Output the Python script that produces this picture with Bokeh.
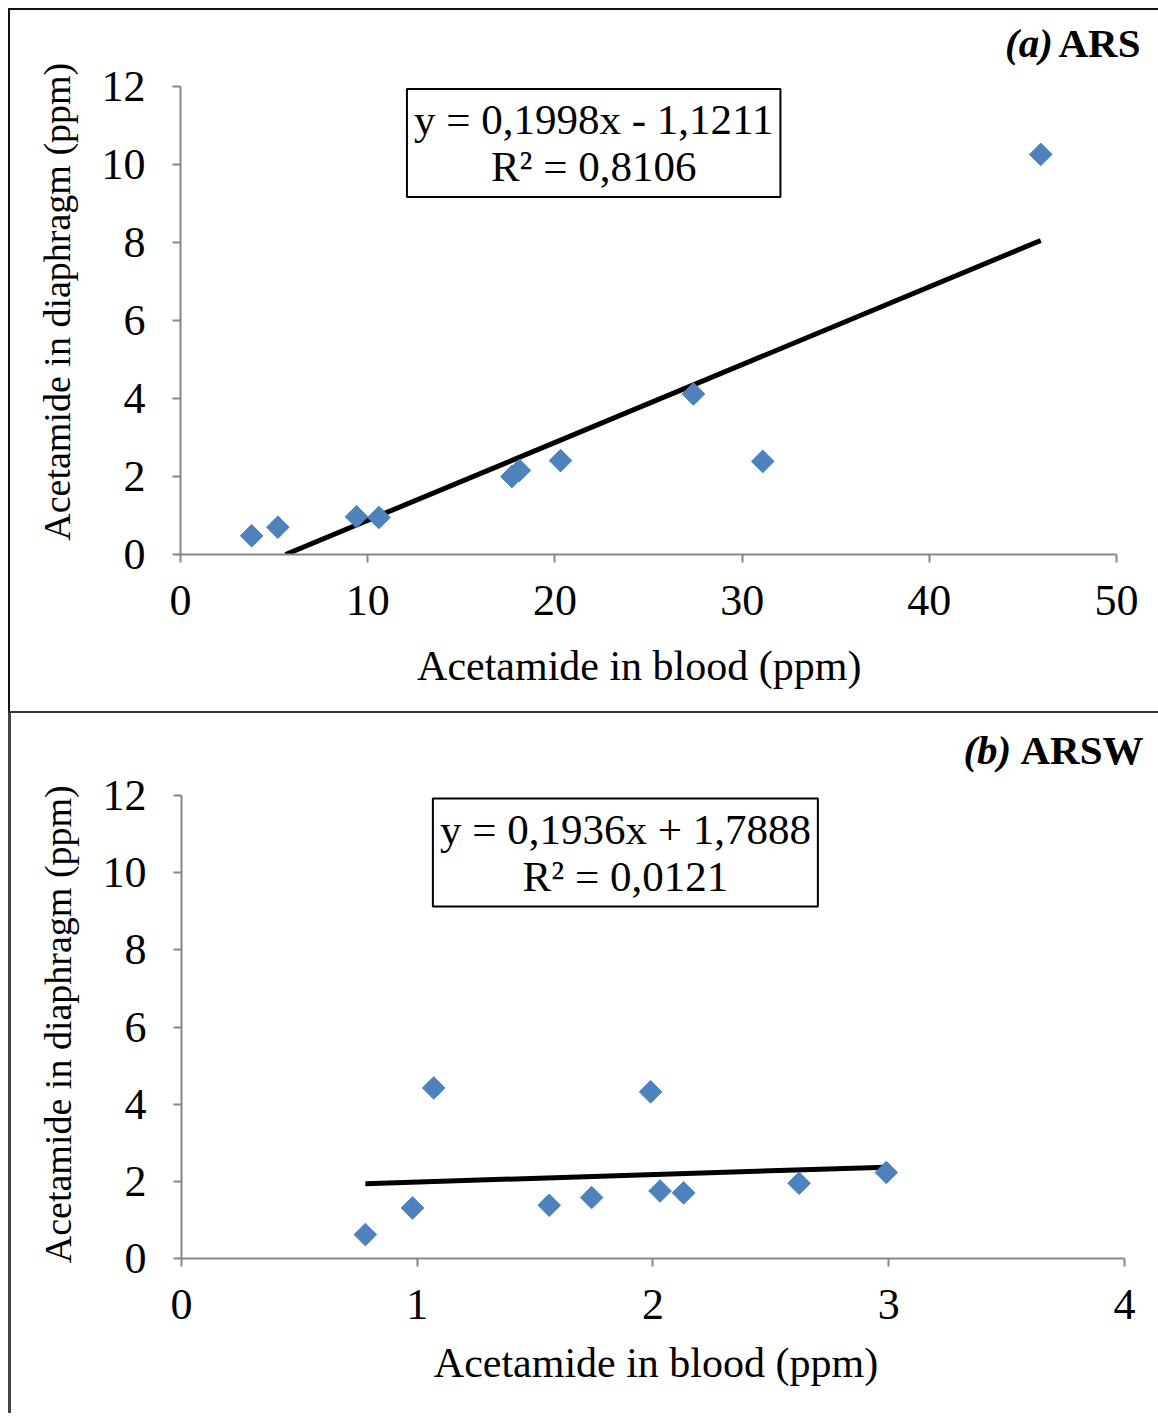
from bokeh.plotting import figure
from bokeh.models import Label, Range1d
from bokeh.layouts import column
from bokeh.embed import file_html
from bokeh.resources import INLINE

# ---- data ----
ars_blood = [3.8, 5.2, 9.4, 10.6, 17.7, 18.1, 20.3, 27.4, 31.1, 45.95]
ars_diaph = [0.48, 0.70, 0.97, 0.95, 2.00, 2.16, 2.41, 4.12, 2.39, 10.27]
ars_slope, ars_intercept = 0.1998, -1.1211
ars_eq = "y = 0,1998x - 1,1211\nR² = 0,8106"

arsw_blood = [0.78, 0.98, 1.07, 1.56, 1.74, 1.99, 2.03, 2.13, 2.62, 2.99]
arsw_diaph = [0.62, 1.31, 4.42, 1.38, 1.58, 4.32, 1.75, 1.70, 1.95, 2.23]
arsw_slope, arsw_intercept = 0.1936, 1.7888
arsw_eq = "y = 0,1936x + 1,7888\nR² = 0,0121"

ars_xticks = [0, 10, 20, 30, 40, 50]
arsw_xticks = [0, 1, 2, 3, 4]
yticks = [0, 2, 4, 6, 8, 10, 12]

x_title = "Acetamide in blood (ppm)"
y_title = "Acetamide in diaphragm (ppm)"

FONT = "Liberation Serif"
AXIS_GRAY = "#868686"
BLUE = "#4F81BD"
NB = "\u00a0"   # trailing no-break spaces re-centre the axis titles


def make_panel(xs, ys, slope, icpt, xticks, eq, tag, name,
               width, height, border_l, border_tb, mb, axis_px,
               eq_xy, tag_x, name_x, tag_y, xlab_standoff, xlab, ylab, styles):
    xmax_axis = xticks[-1]
    ymax_axis = yticks[-1]
    # the frame reaches beyond the axes' ends so that the panel tag fits in it
    frame_w = width - border_l - mb[0] - mb[1]
    frame_h = height - border_tb - mb[2] - mb[3]
    x_end = xmax_axis * frame_w / axis_px[0]
    y_end = ymax_axis * frame_h / axis_px[1]
    p = figure(width=width, height=height, output_backend="svg",
               toolbar_location=None, x_range=Range1d(0, x_end),
               y_range=Range1d(0, y_end),
               min_border_left=mb[0], min_border_right=mb[1],
               min_border_top=mb[2], min_border_bottom=mb[3])
    p.styles = styles
    p.outline_line_color = None
    p.grid.visible = False
    p.background_fill_color = "white"
    p.border_fill_color = "white"

    for ax in (p.xaxis[0], p.yaxis[0]):
        ax.axis_line_color = AXIS_GRAY
        ax.axis_line_width = 2
        ax.major_tick_line_color = AXIS_GRAY
        ax.major_tick_line_width = 2
        ax.major_tick_out = 8
        ax.major_tick_in = 0
        ax.minor_tick_line_color = None
        ax.major_label_text_font = FONT
        ax.major_label_text_font_size = "44px"
        ax.major_label_text_color = "black"
        ax.axis_label_text_font = FONT
        ax.axis_label_text_font_style = "normal"
        ax.axis_label_text_color = "black"
    p.xaxis.ticker = xticks
    p.yaxis.ticker = yticks
    p.xaxis.bounds = (0, xmax_axis)
    p.yaxis.bounds = (0, ymax_axis)
    p.xaxis.axis_label = xlab
    p.yaxis.axis_label = ylab
    p.xaxis.axis_label_text_font_size = "42px"
    p.yaxis.axis_label_text_font_size = "38px"
    p.xaxis.major_label_standoff = 23
    p.xaxis.axis_label_standoff = xlab_standoff
    p.yaxis.major_label_standoff = 27
    p.yaxis.axis_label_standoff = 21

    # trend line (clipped where it would go below zero)
    x0, x1 = min(xs), max(xs)
    y0 = max(slope * x0 + icpt, 0)
    x0 = (y0 - icpt) / slope
    p.line([x0, x1], [y0, slope * x1 + icpt],
           line_color="black", line_width=5)
    # points
    p.scatter(xs, ys, marker="square", size=16, angle=0.785398,
              fill_color=BLUE, line_color=BLUE)

    # equation box
    p.add_layout(Label(x=eq_xy[0], y=eq_xy[1], text=eq,
                       text_align="center", text_baseline="middle",
                       text_font=FONT, text_font_size="43px",
                       text_color="black", text_line_height=1.0,
                       border_line_color="black", border_line_width=2,
                       background_fill_color="white", padding=7))
    # panel tag
    p.add_layout(Label(x=tag_x, y=tag_y, text=tag, text_align="right",
                       text_baseline="middle", text_font=FONT,
                       text_font_size="41px", text_font_style="bold italic",
                       text_color="black"))
    p.add_layout(Label(x=name_x, y=tag_y, text=name, text_align="right",
                       text_baseline="middle", text_font=FONT,
                       text_font_size="41px", text_font_style="bold",
                       text_color="black"))
    return p


pa = make_panel(ars_blood, ars_diaph, ars_slope, ars_intercept,
                ars_xticks, ars_eq, "(a)", "ARS",
                1150, 705, 2, 4, (166, 10, 10, 161), (938, 464),
                (22.07, 10.56), 46.6, 51.28, 13.14, 25,
                x_title + NB * 5, y_title + NB * 3,
                {"border-top": "2px solid #111", "border-left": "2px solid #111",
                 "border-bottom": "2px solid #333", "box-sizing": "border-box"})

pb = make_panel(arsw_blood, arsw_diaph, arsw_slope, arsw_intercept,
                arsw_xticks, arsw_eq, "(b)", "ARSW",
                1150, 700, 3, 0, (170, 10, 10, 155), (940, 463),
                (1.883, 10.52), 3.52, 4.081, 13.17, 18,
                x_title + NB * 2, y_title + NB * 7,
                {"border-left": "3px solid #444", "box-sizing": "border-box"})

layout = column(pa, pb, spacing=0, margin=(8, 0, 0, 8))
open("out.html", "w").write(file_html(layout, INLINE))
